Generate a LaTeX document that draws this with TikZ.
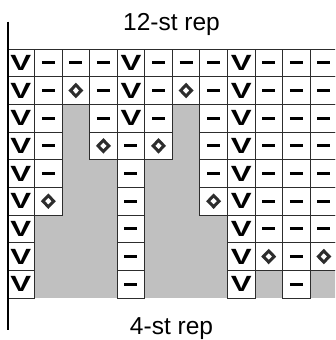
\documentclass[tikz,border=0pt]{standalone}
\usepackage{fontspec}
\setmainfont{Liberation Sans}
\usepackage{graphicx}
\definecolor{shade}{RGB}{192,192,192}
\definecolor{gridline}{RGB}{45,45,45}
\newcommand\knitV{{\fontsize{22}{22}\selectfont\bfseries\scalebox{1.42}[1]{V}}}
\newcommand\knitM{\rule{13pt}{3.2pt}}
\newcommand\knitO{}
\newcommand\knitG{}
\begin{document}
\begin{tikzpicture}[x=1pt,y=-1pt,
  cellbase/.style={minimum width=27.55pt, minimum height=27.67pt, inner sep=0pt, outer sep=0pt, anchor=center},
  cellV/.style={cellbase, draw=gridline, line width=0.9pt, fill=white},
  cellM/.style={cellV},
  cellO/.style={cellV, path picture={\draw[line width=3pt, line join=miter]
      ([shift={(0,-5.6)}]path picture bounding box.center) --
      ([shift={(5.4,0)}]path picture bounding box.center) --
      ([shift={(0,5.6)}]path picture bounding box.center) --
      ([shift={(-5.4,0)}]path picture bounding box.center) -- cycle;}},
  cellG/.style={cellbase, fill=shade},
  lbl/.style={font=\fontsize{24.5}{24.5}\selectfont, anchor=base, inner sep=0pt},
  rule/.style={line width=2pt, draw=black}]
\useasboundingbox (0,0) rectangle (335,340);
\clip (0,0) rectangle (335,340);
\def\rows{1/{V,M,M,M,V,M,M,M,V,M,M,M},
  2/{V,M,O,M,V,M,O,M,V,M,M,M},
  3/{V,M,G,M,V,M,G,M,V,M,M,M},
  4/{V,M,G,O,M,O,G,M,V,M,M,M},
  5/{V,M,G,G,M,G,G,M,V,M,M,M},
  6/{V,O,G,G,M,G,G,O,V,M,M,M},
  7/{V,G,G,G,M,G,G,G,V,M,M,M},
  8/{V,G,G,G,M,G,G,G,V,O,M,O},
  9/{V,G,G,G,M,G,G,G,V,G,M,G}}
% grey cells first
\foreach \r/\row in \rows {
  \foreach \t [count=\c] in \row {
    \if G\t
      \node[cellG] (n-\r-\c) at ({7+27.55*(\c-0.5)},{49+27.67*(\r-0.5)}) {};
    \fi
  }
}
% white cells
\foreach \r/\row in \rows {
  \foreach \t [count=\c] in \row {
    \if G\t\else
      \node[cell\t] (n-\r-\c) at ({7+27.55*(\c-0.5)},{49+27.67*(\r-0.5)}) {\csname knit\t\endcsname};
    \fi
  }
}
\coordinate (ruletop) at (7.7,21.7);
\coordinate (rulebot) at (7.7,330);
\draw[rule] (ruletop) -- (rulebot);
\node[lbl] (top) at (171.5,30) {12-st rep};
\node[lbl] (bottom) at (171.5,334.5) {4-st rep};
\end{tikzpicture}
\end{document}
